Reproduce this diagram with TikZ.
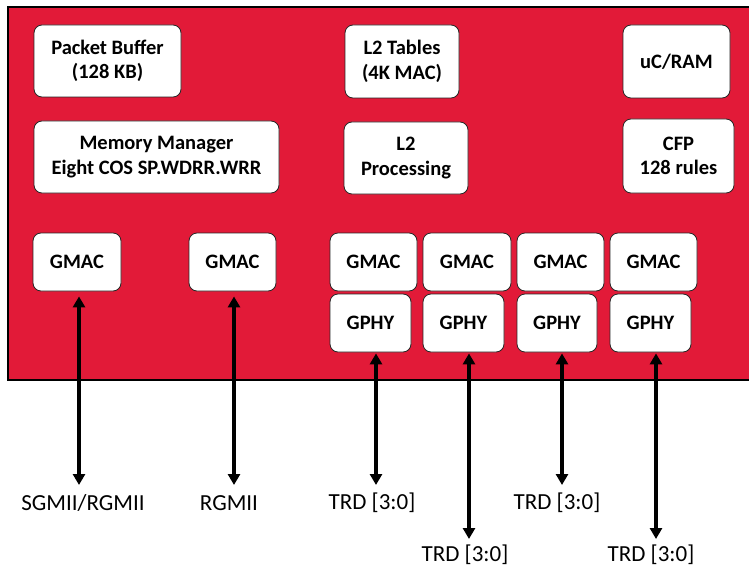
\documentclass[tikz,border=0pt]{standalone}
\usepackage{fontspec}
\setmainfont{Carlito}
\usetikzlibrary{arrows.meta}
\definecolor{chipred}{RGB}{226,26,56}
\begin{document}
\begin{tikzpicture}[x=1pt,y=-1pt,
  blk/.style={draw=black!85, fill=white, rounded corners=8pt, line width=0.8pt,
    font=\fontsize{20.5}{24.5}\selectfont\bfseries, align=center, inner sep=0pt},
  lbl/.style={font=\fontsize{23}{27}\selectfont, inner sep=0pt},
  arr/.style={line width=3.2pt, {Triangle[length=11pt,width=12pt]}-{Triangle[length=11pt,width=12pt]}}]
\useasboundingbox (0,0) rectangle (749,567);
\clip (0,0) rectangle (749,567);
\fill[white] (0,0) rectangle (749,567);
\draw[fill=chipred, line width=1.2pt] (8,7) rectangle (760,380);
% top blocks
\node[blk, minimum width=147pt, minimum height=72pt] (pb) at (107.5,61) {Packet Buffer\\(128 KB)};
\node[blk, minimum width=245pt, minimum height=72pt] (mm) at (156.5,157) {Memory Manager\\Eight COS SP.WDRR.WRR};
\node[blk, minimum width=114pt, minimum height=73pt] (l2t) at (402,61.5) {L2 Tables\\(4K MAC)};
\node[blk, minimum width=124pt, minimum height=72pt] (l2p) at (406,158) {L2\\Processing};
\node[blk, minimum width=107pt, minimum height=73pt] (uc) at (676.5,61.5) {uC/RAM};
\node[blk, minimum width=111pt, minimum height=74pt] (cfp) at (678.5,156) {CFP\\128 rules};
% GMACs
\node[blk, minimum width=88pt, minimum height=58pt] (gm1) at (77,262) {GMAC};
\node[blk, minimum width=87pt, minimum height=58pt] (gm2) at (232.5,262) {GMAC};
\node[blk, minimum width=87pt, minimum height=58pt] (gm3) at (373.5,262) {GMAC};
\node[blk, minimum width=88pt, minimum height=58pt] (gm4) at (467,262) {GMAC};
\node[blk, minimum width=87pt, minimum height=58pt] (gm5) at (560.5,262) {GMAC};
\node[blk, minimum width=87pt, minimum height=58pt] (gm6) at (653.5,262) {GMAC};
% GPHYs
\node[blk, minimum width=81pt, minimum height=58pt] (gp1) at (370.5,323) {GPHY};
\node[blk, minimum width=81pt, minimum height=58pt] (gp2) at (463.5,323) {GPHY};
\node[blk, minimum width=80pt, minimum height=58pt] (gp3) at (557,323) {GPHY};
\node[blk, minimum width=81pt, minimum height=58pt] (gp4) at (650.5,323) {GPHY};
% arrow ends
\coordinate (e1) at (79,485);
\coordinate (e2) at (234,485);
\coordinate (e3) at (376,485);
\coordinate (e4) at (469,539);
\coordinate (e5) at (562,485);
\coordinate (e6) at (656,539);
% labels
\node[lbl] (l1) at (83,503) {SGMII/RGMII};
\node[lbl] (l2) at (229,503) {RGMII};
\node[lbl] (l3) at (372,503) {TRD [3:0]};
\node[lbl] (l4) at (465,555) {TRD [3:0]};
\node[lbl] (l5) at (557,503) {TRD [3:0]};
\node[lbl] (l6) at (651,555) {TRD [3:0]};
% connectors
\draw[arr, shorten <=5pt] (gm1.south -| e1) -- (e1);
\draw[arr, shorten <=5pt] (gm2.south -| e2) -- (e2);
\draw[arr, shorten <=1pt] (gp1.south -| e3) -- (e3);
\draw[arr, shorten <=1pt] (gp2.south -| e4) -- (e4);
\draw[arr, shorten <=1pt] (gp3.south -| e5) -- (e5);
\draw[arr, shorten <=1pt] (gp4.south -| e6) -- (e6);
\end{tikzpicture}
\end{document}
